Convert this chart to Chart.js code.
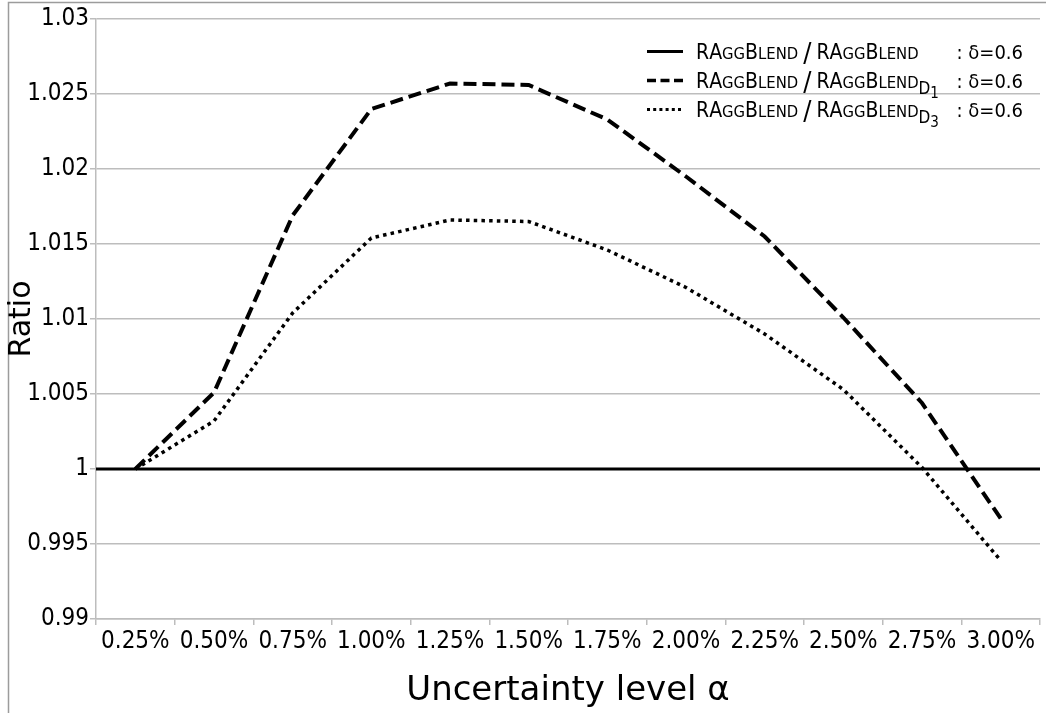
<!DOCTYPE html>
<html>
<head>
<meta charset="utf-8">
<script src="https://cdn.jsdelivr.net/npm/chart.js@4/dist/chart.umd.min.js"></script>
<style>
  html, body { margin: 0; padding: 0; background: #ffffff; }
  #wrap { width: 1046px; height: 713px; position: relative; }
</style>
</head>
<body>
<div id="wrap"><canvas id="chart" width="1046" height="713"></canvas></div>
<script>
// Uncertainty levels on the x axis
const categories = ['0.25%', '0.50%', '0.75%', '1.00%', '1.25%', '1.50%',
                    '1.75%', '2.00%', '2.25%', '2.50%', '2.75%', '3.00%'];

// Ratio of RAggBlend to itself (reference line across the whole plot)
const ratioSelf = [1, 1, 1, 1, 1, 1, 1, 1, 1, 1, 1, 1];
// Ratio of RAggBlend to RAggBlend_D1
const ratioD1 = [1.0000, 1.0051, 1.0169, 1.0240, 1.0257, 1.0256,
                 1.0233, 1.0195, 1.0155, 1.0101, 1.0044, 0.9967];
// Ratio of RAggBlend to RAggBlend_D3
const ratioD3 = [1.0000, 1.0032, 1.0104, 1.0154, 1.0166, 1.0165,
                 1.0146, 1.0121, 1.0090, 1.0053, 1.0001, 0.9939];

// Value axis tick labels
const yTickLabels = ['0.99', '0.995', '1', '1.005', '1.01', '1.015', '1.02', '1.025', '1.03'];
const yMin = 0.99, yMax = 1.03, yStep = 0.005;

// Legend contents
const schemeName = 'RAggBlend';
const deltaText = ': δ=0.6';
const legendSubscripts = [null, '1', '3'];

const FONT = "'DejaVu Sans Condensed', 'DejaVu Sans', sans-serif";
const TITLE_FONT = "'DejaVu Sans', sans-serif";
const GRID = '#bdbdbd';

// Thin frame along the top and left edges of the figure
const framePlugin = {
  id: 'frame',
  beforeDraw(chart) {
    const ctx = chart.ctx;
    ctx.save();
    ctx.strokeStyle = '#9c9c9c';
    ctx.lineWidth = 1.5;
    ctx.beginPath();
    ctx.moveTo(8.5, chart.height);
    ctx.lineTo(8.5, 2.5);
    ctx.lineTo(chart.width, 2.5);
    ctx.stroke();
    ctx.restore();
  }
};

// Draws a word in small capitals: capitals full size, other letters as smaller capitals
function drawSmallCaps(ctx, text, x, y, big, small) {
  for (const ch of text) {
    const isUpper = ch === ch.toUpperCase();
    const glyph = ch.toUpperCase();
    ctx.font = (isUpper ? big : small) + 'px ' + FONT;
    ctx.fillText(glyph, x, y);
    x += ctx.measureText(glyph).width;
  }
  return x;
}

// Legend in the upper right corner with small-caps names and subscripts
const legendPlugin = {
  id: 'capsLegend',
  afterDraw(chart) {
    const ctx = chart.ctx;
    const area = chart.chartArea;
    const sampleX0 = 647, sampleX1 = 683, textX = 696, rightX = 1023;
    const firstBaseline = area.top + 39.5, rowGap = 29;
    const sampleDashes = [[], [9, 4.5], [3, 3.2]];
    const sampleWidths = [3, 3.5, 3];
    ctx.save();
    ctx.fillStyle = '#000';
    ctx.textBaseline = 'alphabetic';
    legendSubscripts.forEach((sub, i) => {
      const base = firstBaseline + i * rowGap;
      // line sample
      ctx.strokeStyle = '#000';
      ctx.lineWidth = sampleWidths[i];
      ctx.lineCap = 'butt';
      ctx.setLineDash(sampleDashes[i]);
      ctx.beginPath();
      ctx.moveTo(sampleX0, base - 7);
      ctx.lineTo(sampleX1, base - 7);
      ctx.stroke();
      ctx.setLineDash([]);
      // label text
      ctx.textAlign = 'left';
      let x = drawSmallCaps(ctx, schemeName, textX, base, 21, 16.5);
      x += 5;
      ctx.font = '27px ' + FONT;
      ctx.fillText('/', x, base + 3);
      x += ctx.measureText('/').width + 5;
      x = drawSmallCaps(ctx, schemeName, x, base, 21, 16.5);
      if (sub) {
        ctx.font = '17px ' + FONT;
        ctx.fillText('D', x, base + 6);
        x += ctx.measureText('D').width;
        ctx.font = '15px ' + FONT;
        ctx.fillText(sub, x, base + 10);
      }
      ctx.font = '20px ' + FONT;
      ctx.textAlign = 'right';
      ctx.fillText(deltaText, rightX, base);
    });
    ctx.restore();
  }
};

new Chart(document.getElementById('chart'), {
  type: 'line',
  data: {
    labels: categories,
    datasets: [
      // reference ratio, spanning the full width of the plot on a hidden 0..1 axis
      { data: [{ x: 0, y: ratioSelf[0] }, { x: 1, y: ratioSelf[ratioSelf.length - 1] }],
        xAxisID: 'xSpan', borderColor: '#000', borderWidth: 3, pointRadius: 0, tension: 0 },
      { data: ratioD1, borderColor: '#000', borderWidth: 4, borderDash: [13, 6],
        borderCapStyle: 'butt', pointRadius: 0, tension: 0 },
      { data: ratioD3, borderColor: '#000', borderWidth: 3.5, borderDash: [3.5, 4.2],
        borderCapStyle: 'butt', pointRadius: 0, tension: 0 }
    ]
  },
  options: {
    responsive: false,
    devicePixelRatio: 1,
    animation: false,
    layout: { padding: { left: 0, right: 6, top: 19, bottom: 0 } },
    plugins: { legend: { display: false }, tooltip: { enabled: false } },
    scales: {
      x: {
        offset: true,
        grid: { offset: true, drawOnChartArea: false, drawTicks: true, tickLength: 6,
                color: GRID, lineWidth: 1.5 },
        border: { color: GRID, width: 1.5 },
        ticks: { font: { family: FONT, size: 24 }, color: '#000', maxRotation: 0,
                 autoSkip: false, padding: 2 },
        title: { display: true, text: 'Uncertainty level α', color: '#000',
                 font: { family: TITLE_FONT, size: 34 },
                 padding: { top: 0, bottom: 1 } },
        afterFit(scale) { scale.height = 94; }
      },
      xSpan: {
        type: 'linear', display: false, min: 0, max: 1
      },
      y: {
        min: yMin, max: yMax,
        grid: { color: GRID, lineWidth: 1.5, tickLength: 6 },
        border: { color: GRID, width: 1.5 },
        ticks: {
          stepSize: yStep,
          font: { family: FONT, size: 24 }, color: '#000', padding: 1,
          callback: (v, i) => yTickLabels[i]
        },
        title: { display: true, text: 'Ratio', color: '#000',
                 font: { family: TITLE_FONT, size: 30 },
                 padding: { top: 4, bottom: 0 } },
        afterFit(scale) { scale.width = 96; }
      }
    }
  },
  plugins: [framePlugin, legendPlugin]
});
</script>
</body>
</html>
